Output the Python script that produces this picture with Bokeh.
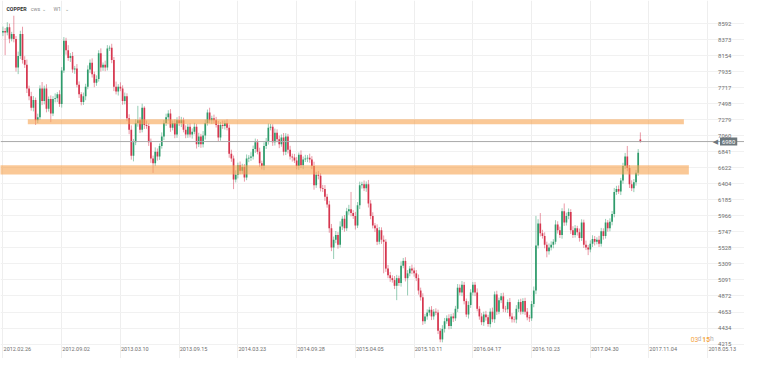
import numpy as np
import pandas as pd
from bokeh.plotting import figure
from bokeh.models import ColumnDataSource, Range1d, FixedTicker, Span, Label
from bokeh.core.properties import value
from bokeh.embed import file_html
from bokeh.resources import INLINE

# ---------------- data ----------------
symbol = "COPPER"
first_week = "2012-02-26"
first_open = 8470

closes = [
    8490, 8470, 8540, 8383, 8448, 8380, 7991, 8148, 8448, 8095,
    8030, 7703, 7599, 7442, 7546, 7272, 7311, 7703, 7533, 7703,
    7429, 7560, 7363, 7560, 7573, 7625, 7494, 7952, 8357, 8226,
    8122, 8148, 7965, 7978, 7756, 7625, 7520, 7599, 7729, 7965,
    8056, 7899, 7782, 7834, 8187, 7991, 8030, 7991, 8252, 8260,
    8095, 7729, 7664, 7729, 7703, 7533, 7599, 7298, 7141, 6788,
    6971, 7233, 7272, 7141, 7442, 7207, 7194, 6971, 6749, 6684,
    6841, 6775, 6919, 7050, 7233, 7311, 7363, 7168, 7233, 7076,
    7272, 7233, 7272, 7141, 7076, 7181, 7076, 7115, 7181, 6945,
    7050, 6945, 7063, 7233, 7377, 7272, 7298, 7272, 7207, 7037,
    7207, 7194, 7233, 7168, 6814, 6749, 6462, 6527, 6658, 6580,
    6632, 6488, 6749, 6760, 6775, 6880, 6971, 6841, 6684, 6645,
    6919, 6984, 7168, 7181, 6971, 7102, 7011, 6945, 7037, 6841,
    7050, 6867, 6775, 6762, 6723, 6645, 6800, 6658, 6736, 6749,
    6760, 6736, 6645, 6383, 6527, 6514, 6344, 6331, 6226, 6122,
    5795, 5534, 5638, 5704, 5573, 5821, 5926, 5795, 6030, 6056,
    6004, 5965, 5834, 6109, 6383, 6396, 6344, 6396, 6135, 5965,
    5834, 5795, 5612, 5769, 5638, 5612, 5246, 5155, 5115, 5089,
    5011, 5115, 5050, 5285, 5351, 5115, 5181, 5246, 5220, 5181,
    5115, 4946, 4854, 4527, 4593, 4645, 4684, 4593, 4658, 4645,
    4397, 4279, 4423, 4527, 4567, 4462, 4593, 4567, 4697, 4985,
    4920, 5024, 4802, 4619, 4749, 4920, 5024, 4920, 4697, 4593,
    4514, 4619, 4580, 4488, 4658, 4554, 4893, 4658, 4815, 4867,
    4697, 4690, 4789, 4593, 4554, 4550, 4697, 4789, 4658, 4802,
    4658, 4580, 4567, 4763, 4946, 5560, 5860, 5730, 5691, 5573,
    5482, 5534, 5573, 5612, 5847, 5769, 5704, 6030, 5874, 5965,
    6017, 5769, 5704, 5795, 5743, 5664, 5874, 5573, 5534, 5508,
    5586, 5651, 5612, 5638, 5586, 5756, 5691, 5874, 5795, 5887,
    5991, 6292, 6331, 6300, 6449, 6645, 6775, 6620, 6396, 6344,
    6423, 6553, 6828, 6980,
]

upper_wicks = [
    60, 40, 70, 50, 30, 250, 40, 60, 45, 100,
    50, 70, 40, 60, 55, 35, 50, 45, 90, 40,
    60, 35, 50, 40, 65, 30, 55, 45, 50, 40,
    70, 40, 55, 35, 60, 45, 30, 50, 40, 55,
    45, 60, 35, 50, 40, 65, 30, 55, 45, 30,
    55, 40, 70, 35, 60, 45, 50, 40, 55, 60,
    45, 50, 196, 40, 55, 20, 60, 35, 50, 40,
    60, 45, 35, 55, 40, 50, 45, 60, 35, 50,
    40, 55, 45, 35, 60, 40, 50, 45, 55, 40,
    50, 35, 60, 45, 40, 65, 35, 50, 45, 55,
    40, 60, 35, 50, 45, 55, 40, 60, 35, 50,
    45, 40, 55, 35, 60, 45, 50, 40, 55, 35,
    50, 45, 60, 40, 35, 55, 45, 50, 40, 60,
    45, 35, 55, 40, 50, 45, 30, 60, 40, 50,
    35, 55, 45, 60, 40, 50, 35, 45, 55, 40,
    50, 60, 45, 55, 40, 70, 35, 50, 45, 60,
    236, 40, 55, 45, 50, 35, 53, 40, 60, 45,
    50, 35, 55, 45, 40, 60, 35, 50, 45, 40,
    55, 45, 35, 60, 40, 50, 45, 35, 55, 40,
    45, 50, 40, 55, 35, 45, 40, 50, 35, 45,
    40, 35, 50, 45, 40, 55, 35, 45, 40, 50,
    45, 52, 40, 35, 50, 45, 39, 40, 55, 35,
    45, 40, 50, 35, 45, 55, 40, 50, 35, 45,
    50, 40, 35, 55, 45, 40, 50, 35, 45, 40,
    45, 50, 35, 40, 55, 405, 60, 144, 45, 50,
    40, 55, 45, 35, 60, 45, 50, 40, 105, 45,
    50, 40, 55, 45, 35, 50, 45, 40, 55, 35,
    45, 50, 40, 35, 55, 45, 40, 50, 35, 45,
    40, 55, 45, 50, 35, 45, 50, 145, 40, 55,
    45, 40, 50, 95,
]

lower_wicks = [
    50, 310, 40, 60, 35, 45, 55, 90, 40, 50,
    45, 60, 55, 40, 50, 65, 40, 35, 55, 45,
    50, 40, 118, 35, 45, 55, 40, 50, 35, 60,
    40, 55, 45, 60, 35, 50, 45, 40, 55, 35,
    50, 45, 60, 40, 35, 55, 45, 50, 40, 35,
    45, 60, 40, 55, 35, 50, 45, 40, 60, 55,
    78, 40, 50, 45, 35, 55, 40, 50, 60, 131,
    40, 55, 45, 35, 50, 40, 45, 55, 35, 50,
    45, 40, 55, 35, 50, 45, 40, 55, 35, 60,
    40, 50, 45, 55, 35, 40, 50, 45, 35, 55,
    45, 40, 50, 35, 55, 45, 131, 40, 50, 45,
    40, 55, 35, 50, 45, 40, 55, 35, 50, 45,
    55, 40, 45, 35, 50, 45, 40, 55, 35, 50,
    45, 50, 40, 55, 35, 45, 50, 40, 55, 35,
    50, 45, 40, 60, 35, 50, 45, 40, 55, 45,
    60, 50, 157, 45, 55, 40, 50, 45, 35, 50,
    45, 40, 55, 35, 50, 45, 40, 50, 55, 45,
    40, 50, 45, 35, 55, 430, 45, 40, 50, 35,
    45, 196, 40, 50, 35, 45, 235, 40, 50, 45,
    40, 55, 45, 50, 35, 45, 40, 50, 45, 35,
    45, 39, 40, 50, 35, 45, 40, 50, 35, 45,
    40, 50, 45, 35, 55, 40, 45, 50, 35, 45,
    40, 50, 45, 35, 45, 40, 50, 45, 35, 40,
    45, 40, 50, 35, 45, 40, 50, 45, 40, 35,
    45, 40, 50, 35, 45, 50, 40, 45, 35, 50,
    82, 45, 40, 50, 35, 45, 40, 50, 45, 40,
    45, 50, 40, 35, 45, 50, 40, 45, 35, 78,
    40, 45, 50, 35, 45, 40, 50, 35, 45, 40,
    50, 45, 40, 35, 50, 45, 40, 45, 50, 40,
    54, 45, 40, 15,
]

gap_opens = {293: 7010}

x_tick_labels = ["2012.02.26", "2012.09.02", "2013.03.10", "2013.09.15",
                 "2014.03.23", "2014.09.28", "2015.04.05", "2015.10.11",
                 "2016.04.17", "2016.10.23", "2017.04.30", "2017.11.04",
                 "2018.05.13"]
y_tick_labels = [4215, 4434, 4653, 4872, 5091, 5309, 5528, 5747, 5966, 6185,
                 6404, 6622, 6841, 7060, 7279, 7498, 7717, 7935, 8154, 8373, 8592]

zone_start = ["2012-05-16", "2011-12-01"]
zone_end = ["2018-02-25", "2018-03-13"]
zone_low = [7217, 6531]
zone_high = [7286, 6656]

last_price = 6980
countdown_parts = ["03", "d", "15", "h"]

# ---------------- derived ----------------
n = len(closes)
assert len(upper_wicks) == n and len(lower_wicks) == n

DAY_MS = 86400000.0
WEEK_MS = 7 * DAY_MS
t0 = pd.Timestamp(first_week).value / 1e6
x_ms = [t0 + i * WEEK_MS for i in range(n)]

opens = [first_open] + closes[:-1]
for k, v in gap_opens.items():
    opens[k] = v
highs = [max(o, c) + u for o, c, u in zip(opens, closes, upper_wicks)]
lows = [min(o, c) - l for o, c, l in zip(opens, closes, lower_wicks)]

BULL = "#2e9b6b"
BEAR = "#d6364f"
colors = [BULL if c >= o else BEAR for o, c in zip(opens, closes)]

src = ColumnDataSource(dict(
    x=x_ms, open=opens, close=closes, high=highs, low=lows,
    top=[max(o, c) for o, c in zip(opens, closes)],
    bottom=[min(o, c) for o, c in zip(opens, closes)],
    color=colors,
))

# ---------------- layout (whole figure is the frame) ----------------
W, H = 744, 358
PX_PER_WEEK = 2.1755
MS_PER_PX = WEEK_MS / PX_PER_WEEK
x_start = t0 - 2.45 * MS_PER_PX
x_end = x_start + W * MS_PER_PX

TOP_TICK_PX, BOT_TICK_PX = 23.0, 343.6
Y_PER_PX = (y_tick_labels[-1] - y_tick_labels[0]) / (BOT_TICK_PX - TOP_TICK_PX)
y_top = y_tick_labels[-1] + TOP_TICK_PX * Y_PER_PX
y_bot = y_top - H * Y_PER_PX


def xd(px):
    return x_start + px * MS_PER_PX


def yd(py):
    return y_top - py * Y_PER_PX


p = figure(width=W, height=H, output_backend="svg", toolbar_location=None,
           x_axis_location=None, y_axis_location=None,
           x_range=Range1d(x_start, x_end), y_range=Range1d(y_bot, y_top),
           min_border=0)
p.outline_line_color = None
p.background_fill_color = "white"
p.border_fill_color = "white"

grid_x = [pd.to_datetime(s, format="%Y.%m.%d").value / 1e6 for s in x_tick_labels]
p.xgrid.ticker = FixedTicker(ticks=grid_x)
p.ygrid.ticker = FixedTicker(ticks=y_tick_labels)
p.xgrid.grid_line_color = "#eeeeee"
p.ygrid.grid_line_color = "#f1f1f1"

# candles
body_w = 0.78 * WEEK_MS
p.segment(x0="x", y0="low", x1="x", y1="high", line_color="color",
          line_alpha=0.5, line_width=1, source=src)
p.vbar(x="x", width=body_w, top="top", bottom="bottom", fill_color="color",
       line_color=None, source=src)

# zones
zs = [pd.Timestamp(s).value / 1e6 for s in zone_start]
ze = [pd.Timestamp(s).value / 1e6 for s in zone_end]
p.quad(left=zs, right=ze, bottom=zone_low, top=zone_high,
       fill_color="#f7a350", fill_alpha=0.6, line_color=None)

# price scale labels (right side)
p.text(x=[xd(717.6)] * len(y_tick_labels), y=y_tick_labels,
       text=[str(v) for v in y_tick_labels],
       text_font=value("Roboto"), text_font_size=value("5.9px"),
       text_color="#6e6e6e", text_align="left", text_baseline="middle")

# date labels, left-aligned at their gridlines
p.text(x=[g + 0.6 * MS_PER_PX for g in grid_x], y=[yd(348.4)] * len(grid_x),
       text=x_tick_labels, text_font=value("Roboto"),
       text_font_size=value("5.5px"), text_color="#6e6e6e",
       text_align="left", text_baseline="middle")

# last price line + marker
p.add_layout(Span(location=last_price, dimension="width",
                  line_color="#a9a9a9", line_width=1))
p.add_layout(Label(x=xd(712.3), y=last_price, text="\u25C0",
                   text_color="#6c777d", text_font_size="7px",
                   text_font="DejaVu Sans", text_baseline="middle"))
p.add_layout(Label(x=xd(719.5), y=last_price, text=str(last_price),
                   text_color="white", text_font="Roboto", text_font_size="5.9px",
                   text_baseline="middle", background_fill_color="#6c777d",
                   padding=2))

# header
hdr = [(5.9, symbol, "#333333", "bold"), (30.3, "cws", "#8a8a8a", "normal"),
       (41.5, "\u2304", "#8a8a8a", "normal"), (52.9, "W1", "#8a8a8a", "normal"),
       (64.3, "\u2304", "#8a8a8a", "normal")]
for px, txt, col, style in hdr:
    p.add_layout(Label(x=xd(px), y=yd(8.2), text=txt, text_color=col,
                       text_font="Roboto", text_font_size="5.3px",
                       text_font_style=style, text_baseline="middle"))

# countdown
cd_pos = [690.2, 697.0, 701.8, 709.6]
cd_col = ["#f5a53f", "#b3b3b3", "#f5a53f", "#b3b3b3"]
cd_sty = ["normal", "normal", "bold", "normal"]
for px, txt, col, sty in zip(cd_pos, countdown_parts, cd_col, cd_sty):
    p.add_layout(Label(x=xd(px), y=yd(338.8), text=txt, text_color=col,
                       text_font="Roboto", text_font_size="6.7px",
                       text_font_style=sty, text_baseline="middle"))

open("out.html", "w").write(file_html(p, INLINE))
